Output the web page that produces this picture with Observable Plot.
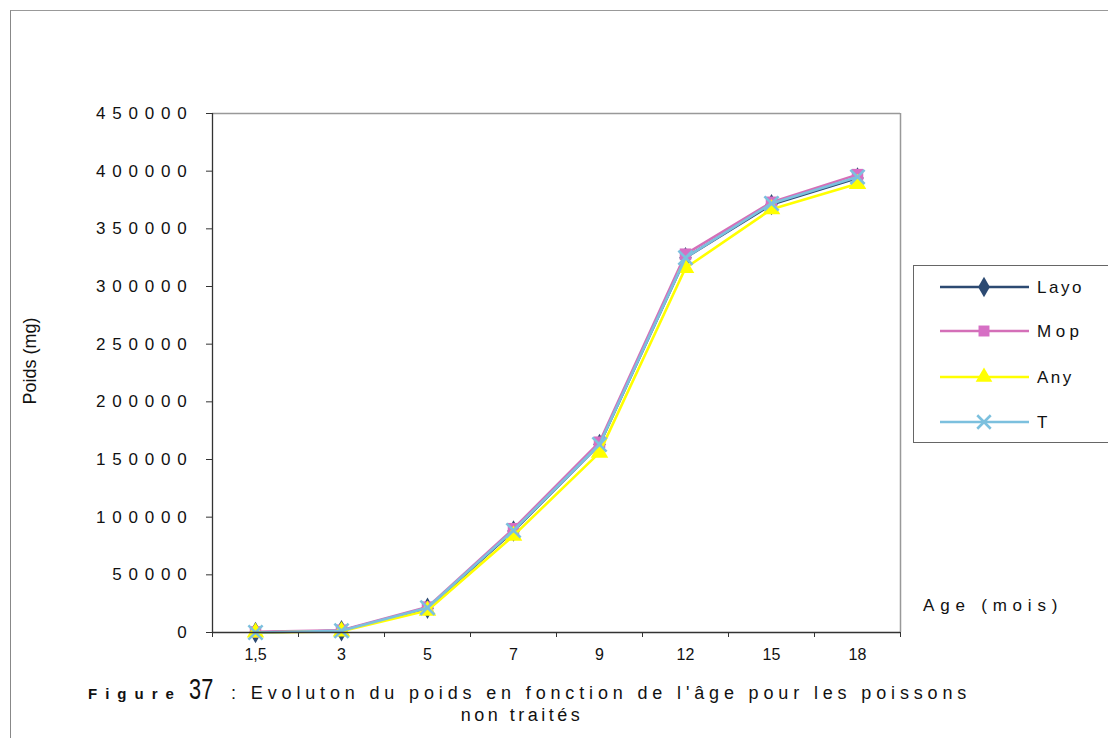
<!DOCTYPE html>
<html>
<head>
<meta charset="utf-8">
<script src="https://cdn.jsdelivr.net/npm/d3@7"></script>
<script src="https://cdn.jsdelivr.net/npm/@observablehq/plot@0.6"></script>
<style>
  html, body { margin: 0; padding: 0; background: #fff; }
  #page { position: relative; width: 1108px; height: 738px; overflow: hidden; font-family: "Liberation Sans", Arial, sans-serif; color: #111; }
  #outer { position: absolute; left: 10px; top: 10px; width: 1110px; height: 740px; border-left: 1.5px solid #888; border-top: 1.5px solid #999; box-sizing: border-box; }
  #chart { position: absolute; left: 0; top: 0; }
  #chart svg [aria-label="y-axis tick label"] text { letter-spacing: 6.8px; font-size: 17px; }
  #chart svg [aria-label="x-axis tick label"] text { font-size: 16px; }
  #ylabel { position: absolute; left: 30px; top: 361px; transform: translate(-50%, -50%) rotate(-90deg); font-size: 18px; white-space: nowrap; }
  #agelabel { position: absolute; left: 923px; top: 596px; font-size: 17px; letter-spacing: 5.8px; white-space: nowrap; }
  #legend { position: absolute; left: 913px; top: 265px; width: 200px; height: 178px; border: 1px solid #666; box-sizing: border-box; background: #fff; }
  #caption1 { position: absolute; left: 88px; top: 683px; height: 20px; line-height: 20px; white-space: nowrap; font-size: 18px; letter-spacing: 4.85px; }
  #caption1 .fig { font-weight: bold; font-size: 15px; letter-spacing: 8px; }
  #caption1 .num { display: inline-block; line-height: 0; font-size: 29px; letter-spacing: 0; transform: scaleX(0.75); margin: 0 14px 0 3px; }
  #caption2 { position: absolute; left: 522px; top: 705px; height: 20px; line-height: 20px; transform: translateX(-50%); white-space: nowrap; font-size: 18px; letter-spacing: 3.5px; }
</style>
</head>
<body>
<div id="page">
  <div id="outer"></div>
  <div id="chart"></div>
  <div id="ylabel">Poids (mg)</div>
  <div id="agelabel">Age (mois)</div>
  <div id="legend"></div>
  <div id="caption1"><span class="fig">Figure</span><span class="num">37</span>: Evoluton du poids en fonction de l'âge pour les poissons</div>
  <div id="caption2">non traités</div>
</div>
<script>
// ---- data ----
const ages = ["1,5", "3", "5", "7", "9", "12", "15", "18"];
const seriesNames = ["Layo", "Mop", "Any", "T"];
const layo = [0, 1500, 21000, 88000, 163000, 325000, 371000, 394000];
const mop  = [500, 2000, 22000, 90000, 165000, 328000, 373000, 397000];
const any  = [0, 1000, 19000, 84000, 156000, 316000, 367000, 389000];
const tSer = [0, 1500, 21500, 88500, 163000, 325000, 372000, 395000];
const yTicks = [0, 50000, 100000, 150000, 200000, 250000, 300000, 350000, 400000, 450000];

const seriesValues = [layo, mop, any, tSer];
const colors = ["#2c4a72", "#d46fb8", "#ffff00", "#7cc0de"];
const markerFill = ["#2c4a72", "#d66fc4", "#ffff00", "none"];
const symbols = ["diamond", "square", "triangle", "times"];

const rows = [];
seriesNames.forEach((s, k) => seriesValues[k].forEach((v, i) => rows.push({series: s, i, age: ages[i], value: v})));

const marks = [
  Plot.ruleY([yTicks[yTicks.length - 1]], {stroke: "#999", strokeWidth: 1.5}),
  Plot.ruleX([ages.length - 0.5], {stroke: "#999", strokeWidth: 1.5})
];
seriesNames.forEach((s, k) => {
  const d = rows.filter(r => r.series === s);
  marks.push(Plot.line(d, {x: "i", y: "value", stroke: colors[k], strokeWidth: 2.6}));
  marks.push(Plot.dot(d, {
    x: "i", y: "value", symbol: () => symbols[k], r: 6.5,
    fill: markerFill[k], stroke: k === 3 ? colors[k] : "none", strokeWidth: k === 3 ? 2.6 : 0
  }));
});
marks.push(
  Plot.ruleX([-0.5], {stroke: "#333", strokeWidth: 1.3}),
  Plot.ruleY([0], {stroke: "#333", strokeWidth: 1.3}),
  Plot.axisY({ticks: yTicks, tickSize: 6, tickPadding: 13, tickFormat: d => String(d), label: null, stroke: "#333"}),
  Plot.axisX({ticks: d3.range(ages.length + 1).map(i => i - 0.5), tickSize: 5, tickFormat: () => "", label: null, stroke: "#333"}),
  Plot.axisX({ticks: d3.range(ages.length), tickSize: 0, tickPadding: 16, tickFormat: i => ages[i], label: null})
);

const chart = Plot.plot({
  width: 1108,
  height: 738,
  marginLeft: 212,
  marginRight: 208,
  marginTop: 113,
  marginBottom: 106,
  style: {fontFamily: "'Liberation Sans', Arial, sans-serif", color: "#111", background: "transparent"},
  x: {domain: [-0.5, ages.length - 0.5]},
  y: {domain: [0, 450000]},
  marks
});
document.getElementById("chart").appendChild(chart);

// ---- legend ----
const lg = d3.select("#legend").append("svg").attr("width", 200).attr("height", 178);
const rowY = [21, 65, 111, 156];
const symMap = {diamond: d3.symbolDiamond, square: d3.symbolSquare, triangle: d3.symbolTriangle, times: d3.symbolTimes};
seriesNames.forEach((s, k) => {
  const g = lg.append("g").attr("transform", `translate(0, ${rowY[k]})`);
  g.append("line").attr("x1", 26).attr("x2", 115).attr("y1", 0).attr("y2", 0).attr("stroke", colors[k]).attr("stroke-width", 2.6);
  g.append("path").attr("transform", "translate(70,0)")
    .attr("d", d3.symbol(symMap[symbols[k]], 120))
    .attr("fill", markerFill[k]).attr("stroke", k === 3 ? colors[k] : "none").attr("stroke-width", 2.6);
  g.append("text").attr("x", 123).attr("y", 6).attr("font-size", 17).attr("letter-spacing", k === 1 ? "4.5px" : "2.5px")
    .attr("font-family", "'Liberation Sans', Arial, sans-serif").attr("fill", "#111").text(s);
});
</script>
</body>
</html>
